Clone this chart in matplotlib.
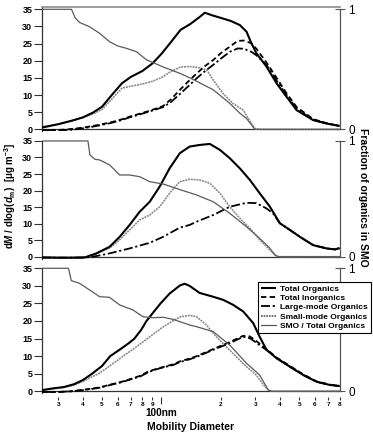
import matplotlib
matplotlib.use('Agg')
import matplotlib.pyplot as plt
from matplotlib.lines import Line2D

plt.rcParams['font.family'] = ['Liberation Sans', 'DejaVu Sans']
plt.rcParams['font.weight'] = 'bold'
plt.rcParams['mathtext.fontset'] = 'custom'
plt.rcParams['mathtext.rm'] = 'Liberation Sans:bold'
plt.rcParams['mathtext.it'] = 'Liberation Sans:bold:italic'
plt.rcParams['mathtext.bf'] = 'Liberation Sans:bold'
plt.rcParams['mathtext.default'] = 'bf'

# ---------------- Panel 1 ----------------
p1_to_d = [24.7, 30, 35, 40, 45, 50, 56, 63, 70, 80, 90, 100, 112, 125, 140, 155, 166, 182, 200, 225, 250, 270, 286, 303, 341, 384, 431, 485, 588, 688, 800]
p1_to_v = [0.5, 1.5, 2.5, 3.5, 4.9, 6.6, 10.0, 13.4, 15.3, 17.0, 19.2, 22.0, 25.5, 29.0, 30.7, 32.6, 34.0, 33.2, 32.5, 31.6, 30.4, 28.5, 25.1, 22.2, 18.3, 13.4, 9.5, 5.6, 2.7, 1.7, 1.0]

p1_ti_d = [24.7, 30, 35, 40, 47, 55, 62, 69, 78, 88, 102, 112, 124, 137, 151, 165, 183, 200, 222, 244, 262, 286, 303, 341, 384, 431, 485, 588, 688, 800]
p1_ti_v = [-0.3, -0.2, 0.1, 0.5, 1.2, 2.0, 2.8, 3.7, 4.6, 5.5, 6.8, 8.8, 11.5, 14.0, 16.3, 18.3, 20.2, 22.2, 24.1, 25.8, 25.9, 25.1, 23.5, 19.5, 15.0, 10.5, 6.5, 3.0, 1.8, 1.0]

p1_lmo_d = [24.7, 30, 35, 40, 47, 55, 62, 69, 78, 88, 102, 112, 124, 137, 151, 165, 183, 200, 222, 244, 262, 286, 303, 341, 384, 431, 485, 588, 688, 800]
p1_lmo_v = [-0.3, -0.3, -0.1, 0.3, 1.0, 1.8, 2.6, 3.5, 4.4, 5.3, 6.5, 8.0, 10.3, 12.6, 14.9, 16.8, 18.8, 20.6, 22.6, 23.6, 23.5, 22.6, 21.6, 18.8, 14.2, 10.0, 6.0, 2.8, 1.7, 1.0]

p1_smo_d = [24.7, 30, 35, 40, 45, 50, 56, 63, 70, 80, 90, 100, 112, 125, 140, 155, 170, 183, 205, 230, 260, 286, 298, 320, 800]
p1_smo_v = [0.8, 1.5, 2.5, 3.4, 4.5, 5.8, 8.8, 12.0, 12.6, 13.2, 14.0, 15.1, 16.9, 18.2, 18.3, 18.0, 17.3, 14.4, 10.5, 7.6, 5.6, 1.7, 0.2, 0.0, 0.0]

p1_ratio_d = [24.7, 35.0, 36.5, 38.5, 43.2, 48.6, 54.6, 60, 66.4, 74.7, 83.9, 102, 124, 139, 151, 183, 222, 250, 270, 298, 800]
p1_ratio_v = [1.0, 1.0, 0.93, 0.89, 0.855, 0.80, 0.73, 0.695, 0.675, 0.647, 0.58, 0.52, 0.467, 0.43, 0.40, 0.33, 0.217, 0.134, 0.091, 0.0, 0.0]

# ---------------- Panel 2 ----------------
p2_to_d = [24.7, 30, 35, 41, 46.8, 54.6, 61.4, 69, 77.6, 87.2, 98, 110, 124, 139, 156.5, 176, 198, 222, 250, 281, 315, 355, 399, 448, 504, 588, 688, 760, 800]
p2_to_v = [-0.2, -0.3, -0.3, -0.2, 1.0, 3.0, 6.0, 9.6, 13.6, 16.6, 21.2, 26.7, 31.3, 33.3, 33.8, 34.1, 32.3, 29.8, 26.7, 23.2, 19.2, 15.1, 10.1, 8.1, 6.0, 3.5, 2.5, 2.2, 2.6]

p2_lmo_d = [24.7, 30, 35, 41, 46.8, 54.6, 69, 87.2, 102, 124, 139, 151, 183, 222, 270, 303, 341, 368, 399, 448, 504, 588, 688, 760, 800]
p2_lmo_v = [-0.3, -0.3, -0.3, -0.3, 0.2, 1.0, 2.5, 4.2, 6.0, 8.8, 9.6, 10.6, 12.6, 15.1, 16.3, 16.2, 14.6, 13.1, 10.1, 8.1, 6.0, 3.5, 2.5, 2.2, 2.6]

p2_smo_d = [24.7, 30, 35, 41, 46.8, 54.6, 61.4, 69, 77.6, 87.2, 98, 110, 124, 139, 156.5, 176, 198, 222, 250, 281, 315, 355, 383, 400, 800]
p2_smo_v = [-0.2, -0.3, -0.3, -0.2, 0.9, 2.6, 5.1, 8.1, 11.1, 12.6, 15.1, 19.2, 22.7, 23.4, 23.2, 22.2, 19.2, 15.1, 11.6, 8.6, 5.1, 2.0, 0.2, 0.0, 0.0]

p2_ratio_d = [24.7, 42.4, 43.4, 45.9, 48.6, 54.6, 61.4, 69, 77.6, 87.2, 102, 124, 151, 183, 222, 270, 315, 355, 376, 390, 800]
p2_ratio_v = [1.0, 1.0, 0.88, 0.842, 0.836, 0.793, 0.706, 0.706, 0.691, 0.648, 0.628, 0.58, 0.533, 0.475, 0.375, 0.259, 0.159, 0.073, 0.015, 0.0, 0.0]

# ---------------- Panel 3 ----------------
p3_to_d = [24.7, 28, 32, 36, 40, 44.5, 50, 55, 62, 68, 73, 79, 84, 92, 99, 110, 124, 131, 139, 156, 183, 206, 231, 260, 292, 315, 341, 384, 448, 525, 613, 714, 800]
p3_to_v = [0.3, 0.8, 1.2, 2.0, 3.2, 5.0, 7.2, 10.0, 12.0, 13.6, 15.0, 17.5, 20.0, 22.8, 25.0, 27.8, 30.1, 30.6, 30.0, 28.0, 26.9, 26.0, 24.6, 22.7, 19.4, 15.5, 11.8, 9.4, 7.0, 4.6, 2.7, 1.8, 1.5]

p3_ti_d = [24.7, 30, 35, 40, 48.6, 56, 62, 69, 78, 85, 91, 102, 115, 124, 139, 151, 183, 222, 260, 281, 300, 320, 341, 384, 448, 525, 613, 714, 800]
p3_ti_v = [-0.3, -0.2, 0.0, 0.4, 1.1, 2.0, 2.6, 3.4, 4.4, 5.5, 6.1, 6.9, 7.7, 8.5, 9.3, 10.0, 12.0, 14.0, 15.8, 15.6, 14.5, 13.2, 12.0, 9.6, 7.2, 4.8, 2.8, 1.9, 1.5]

p3_lmo_d = [24.7, 30, 35, 40, 48.6, 56, 62, 69, 78, 85, 91, 102, 115, 124, 139, 151, 183, 222, 260, 281, 300, 320, 341, 384, 448, 525, 613, 714, 800]
p3_lmo_v = [-0.2, -0.2, 0.0, 0.3, 1.0, 1.9, 2.5, 3.3, 4.2, 5.3, 6.0, 6.8, 7.5, 8.3, 9.1, 9.8, 11.8, 13.7, 15.5, 15.1, 14.0, 12.8, 11.8, 9.4, 7.0, 4.6, 2.7, 1.8, 1.5]

p3_smo_d = [24.7, 28, 32, 36, 40, 44, 48, 55, 64, 72, 85, 100, 114, 125, 139, 151, 169, 190, 213, 240, 270, 303, 329, 348, 363, 800]
p3_smo_v = [0.3, 0.7, 1.1, 1.7, 2.8, 4.0, 5.0, 7.3, 10.0, 12.0, 15.0, 18.0, 20.0, 21.2, 21.6, 21.2, 18.9, 15.5, 12.7, 9.8, 7.0, 4.6, 1.8, 0.4, 0.0, 0.0]

p3_ratio_d = [24.7, 33.8, 34.9, 38.4, 43.2, 48.6, 54.6, 61.4, 71.8, 80.6, 90.6, 102, 114.5, 124, 139, 151, 183, 222, 270, 315, 348, 363, 800]
p3_ratio_v = [1.0, 1.0, 0.90, 0.878, 0.824, 0.769, 0.764, 0.702, 0.661, 0.606, 0.598, 0.602, 0.585, 0.566, 0.539, 0.525, 0.485, 0.376, 0.228, 0.132, 0.01, 0.0, 0.0]

# x axis ticks
major_ticks = [100]
major_labels = ['100nm']
minor_ticks = [30, 40, 50, 60, 70, 80, 90, 200, 300, 400, 500, 600, 700, 800]
minor_labels = ['3', '4', '5', '6', '7', '8', '9', '2', '3', '4', '5', '6', '7', '8']
y_ticks = [0, 5, 10, 15, 20, 25, 30, 35]
legend_labels = ['Total Organics', 'Total Inorganics', 'Large-mode Organics',
                 'Small-mode Organics', 'SMO / Total Organics']

panels = [
    dict(to=(p1_to_d, p1_to_v), ti=(p1_ti_d, p1_ti_v), lmo=(p1_lmo_d, p1_lmo_v),
         smo=(p1_smo_d, p1_smo_v), ratio=(p1_ratio_d, p1_ratio_v)),
    dict(to=(p2_to_d, p2_to_v), ti=None, lmo=(p2_lmo_d, p2_lmo_v),
         smo=(p2_smo_d, p2_smo_v), ratio=(p2_ratio_d, p2_ratio_v)),
    dict(to=(p3_to_d, p3_to_v), ti=(p3_ti_d, p3_ti_v), lmo=(p3_lmo_d, p3_lmo_v),
         smo=(p3_smo_d, p3_smo_v), ratio=(p3_ratio_d, p3_ratio_v)),
]

fig = plt.figure(figsize=(3.73, 4.32), dpi=100)
L = 42 / 373
W = (339.5 - 42) / 373
positions = [(0.6958, 0.2882), (0.4012, 0.2748), (0.0894, 0.2920)]
ylims = [(-0.6, 35.7), (-0.6, 35.3), (-0.6, 35.3)]

TO_STYLE = dict(color='black', lw=1.5, solid_capstyle='butt')
TI_STYLE = dict(color='black', lw=1.3, dashes=(3, 1.8))
LMO_STYLE = dict(color='black', lw=1.3, dashes=(5, 1.5, 1.2, 1.5))
SMO_STYLE = dict(color='#8c8c8c', lw=1.2, ls=(0, (1.2, 0.5)))
RATIO_STYLE = dict(color='#5a5a5a', lw=0.9)

for i, (pd_, (b, h), yl) in enumerate(zip(panels, positions, ylims)):
    ax = fig.add_axes([L, b, W, h])
    ax.set_xscale('log')
    ax.set_xlim(24.8, 800)
    ax.set_ylim(*yl)
    ax.set_yticks(y_ticks)
    ax.tick_params(axis='y', direction='out', length=5.8, width=0.8, pad=1.2,
                   labelsize=6.5, color='#333333')
    for lab in ax.get_yticklabels():
        lab.set_fontweight('bold')
    ax.spines['right'].set_visible(False)
    ax.spines['bottom'].set_visible(False)
    ax.spines['left'].set_color('#333333')
    ax.spines['left'].set_linewidth(0.9)
    if i == 0:
        ax.spines['top'].set_color('#8c8c8c')
        ax.spines['top'].set_linewidth(1.2)
    else:
        ax.spines['top'].set_visible(False)
        ax.spines['left'].set_bounds(yl[0], 35)
    ax.axhline(0, color='#333333', lw=0.9, zorder=1)

    ax.plot(*pd_['smo'], zorder=2, **SMO_STYLE)
    if pd_['ti'] is not None:
        ax.plot(*pd_['ti'], zorder=3, **TI_STYLE)
    ax.plot(*pd_['lmo'], zorder=3, **LMO_STYLE)
    ax.plot(*pd_['to'], zorder=4, **TO_STYLE)

    axr = ax.twinx()
    axr.set_ylim(yl[0] / 35, yl[1] / 35)
    axr.set_yticks([0, 1])
    axr.set_yticklabels(['0', '1'], fontweight='normal', fontsize=8.5)
    axr.tick_params(axis='y', direction='inout', length=7, width=0.8, pad=3,
                    color='#555555')
    for s in ['top', 'left', 'bottom']:
        axr.spines[s].set_visible(False)
    axr.spines['right'].set_bounds(0, 1)
    axr.spines['right'].set_color('#555555')
    axr.spines['right'].set_linewidth(0.9)
    axr.plot(*pd_['ratio'], zorder=2, **RATIO_STYLE)

    if i < 2:
        ax.tick_params(axis='x', which='both', bottom=False, labelbottom=False)
        ax.set_xticks([])
        ax.set_xticks([], minor=True)
    else:
        ax.spines['bottom'].set_position(('outward', 2.4))
        ax.set_xticks(major_ticks)
        ax.set_xticklabels(major_labels, fontsize=7.2, fontweight='bold')
        ax.set_xticks(minor_ticks, minor=True)
        ax.set_xticklabels(minor_labels, minor=True, fontsize=4.6, fontweight='bold')
        ax.tick_params(axis='x', which='major', direction='out', length=5.3, width=0.8,
                       pad=2.5, color='#333333')
        ax.tick_params(axis='x', which='minor', direction='out', length=2.4, width=0.8,
                       pad=1.2, color='#333333')
        handles = [
            Line2D([], [], **TO_STYLE),
            Line2D([], [], **TI_STYLE),
            Line2D([], [], **LMO_STYLE),
            Line2D([], [], color='#555555', lw=1.2, ls=(0, (1.0, 0.6))),
            Line2D([], [], **RATIO_STYLE),
        ]
        leg = axr.legend(handles, legend_labels, loc='upper left',
                         bbox_to_anchor=(0.726, 0.883),
                         borderaxespad=0, fontsize=6.0, frameon=True, fancybox=False,
                         framealpha=1, edgecolor='black', borderpad=0.35,
                         handlelength=1.8, handletextpad=0.5, labelspacing=0.18)
        leg.get_frame().set_linewidth(0.8)
        leg.set_zorder(20)
        for t in leg.get_texts():
            t.set_fontweight('bold')

fig.text(190.7 / 373, (432 - 427) / 432, 'Mobility Diameter', ha='center', va='center',
         fontsize=7.5, fontweight='bold')
fig.text(10 / 373, (432 - 196) / 432,
         r'd$\it{M}$ / dlog($\it{d}_{\rm m}$)  [μg m$^{-3}$]',
         rotation=90, ha='center', va='center', fontsize=7, fontweight='bold')
fig.text(363 / 373, (432 - 197) / 432, 'Fraction of organics in SMO', rotation=270,
         ha='center', va='center', fontsize=7.5, fontweight='bold')

fig.savefig('out.png', dpi=100)
